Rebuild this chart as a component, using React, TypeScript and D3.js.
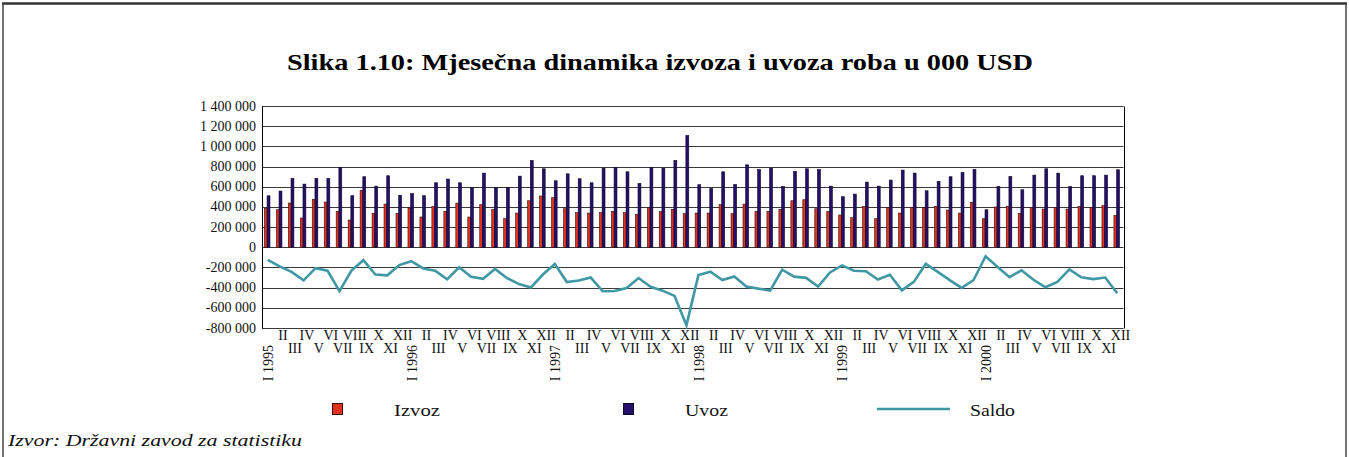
import React from 'react';
import * as d3 from 'd3';

const years = [1995, 1996, 1997, 1998, 1999, 2000];
const monthNames = ['I', 'II', 'III', 'IV', 'V', 'VI', 'VII', 'VIII', 'IX', 'X', 'XI', 'XII'];

// values in 000 USD
const izvoz = [
  385000, 372000, 438000, 290000, 475000, 448000, 356000, 270000, 564000, 336000, 428000, 336000,
  390000, 300000, 405000, 356000, 438000, 300000, 422000, 376000, 283000, 339000, 461000, 508000,
  491000, 382000, 343000, 339000, 343000, 356000, 343000, 326000, 392000, 353000, 376000, 333000,
  339000, 339000, 422000, 333000, 428000, 356000, 356000, 376000, 461000, 471000, 382000, 356000,
  320000, 293000, 405000, 283000, 392000, 339000, 392000, 392000, 405000, 369000, 339000, 445000,
  283000, 399000, 405000, 336000, 392000, 379000, 392000, 379000, 405000, 392000, 412000, 316000,
];

const uvoz = [
  510000, 557000, 682000, 626000, 682000, 682000, 791000, 511000, 699000, 606000, 709000, 514000,
  531000, 511000, 639000, 676000, 639000, 593000, 735000, 593000, 593000, 705000, 860000, 778000,
  659000, 728000, 679000, 639000, 784000, 791000, 748000, 633000, 788000, 784000, 860000, 1107000,
  620000, 583000, 748000, 623000, 817000, 771000, 784000, 603000, 752000, 778000, 771000, 606000,
  501000, 527000, 646000, 606000, 666000, 765000, 735000, 560000, 653000, 699000, 742000, 771000,
  372000, 603000, 702000, 570000, 715000, 778000, 735000, 603000, 709000, 709000, 715000, 768000,
];

const saldo = [
  -125000, -190000, -244000, -328000, -207000, -232000, -435000, -230000, -128000, -270000, -278000, -176000,
  -138000, -210000, -232000, -318000, -198000, -292000, -312000, -215000, -305000, -365000, -398000, -270000,
  -165000, -345000, -330000, -300000, -436000, -433000, -404000, -305000, -392000, -430000, -482000, -772000,
  -276000, -242000, -325000, -289000, -388000, -410000, -428000, -222000, -291000, -303000, -389000, -250000,
  -180000, -233000, -238000, -320000, -272000, -427000, -343000, -165000, -244000, -326000, -403000, -324000,
  -89000, -196000, -296000, -228000, -322000, -396000, -344000, -220000, -298000, -316000, -300000, -455000,
];

const yTicks = [1400000, 1200000, 1000000, 800000, 600000, 400000, 200000, 0, -200000, -400000, -600000, -800000];
const seriesNames = ['Izvoz', 'Uvoz', 'Saldo'];
const titleText = 'Slika 1.10: Mjesečna dinamika izvoza i uvoza roba u 000 USD';
const sourceText = 'Izvor: Državni zavod za statistiku';

const RED = '#e0321f';
const NAVY = '#24106a';
const TEAL = '#3f98a4';
const FONT = 'Liberation Serif';

export default function App() {
  const W = 1349;
  const H = 457;
  const left = 262;
  const right = 1123.5;
  const top = 106;
  const bottom = 328;

  const n = izvoz.length;
  const x = d3.scaleBand<number>().domain(d3.range(n)).range([left, right]).padding(0);
  const y = d3.scaleLinear().domain([-800000, 1400000]).range([bottom, top]);
  const bw = x.bandwidth();
  const cx = (i: number) => (x(i) as number) + bw / 2;

  const fmt = d3.formatLocale({ decimal: '.', thousands: ' ', grouping: [3], currency: ['', ''], minus: '-' }).format(',');

  const line = d3
    .line<number>()
    .x((_, i) => cx(i) - 0.3)
    .y((d) => y(d));

  const barW = 2.9;
  const crisp = (v: number) => Math.round(v) + 0.5;

  const labels: { i: number; name: string; year: number }[] = [];
  years.forEach((yr, yi) => {
    monthNames.forEach((m, mi) => labels.push({ i: yi * 12 + mi, name: m, year: yr }));
  });

  return (
    <svg width={W} height={H} style={{ position: 'absolute', left: 0, top: 0, background: '#fff' }}>
      <rect x={0} y={0} width={W} height={H} fill="#fff" />
      {/* outer frame */}
      <line x1={2} x2={1347} y1={3.5} y2={3.5} stroke="#333" strokeWidth={2.5} />
      <line x1={3} x2={3} y1={3} y2={H} stroke="#444" strokeWidth={1.5} />
      <line x1={1346} x2={1346} y1={3} y2={H} stroke="#444" strokeWidth={1.5} />

      <text
        x={287}
        y={70}
        fontFamily={FONT}
        fontSize={23}
        fontWeight="bold"
        textLength={746}
        lengthAdjust="spacingAndGlyphs"
        fill="#000"
      >
        {titleText}
      </text>

      {/* gridlines */}
      {yTicks.map((t) => (
        <line key={'g' + t} x1={left} x2={right} y1={crisp(y(t))} y2={crisp(y(t))} stroke="#3a3a3a" strokeWidth={1} />
      ))}
      {/* frame of plot */}
      <line x1={crisp(left)} x2={crisp(left)} y1={crisp(top)} y2={crisp(bottom)} stroke="#000" strokeWidth={1} />
      <line x1={crisp(right)} x2={crisp(right)} y1={crisp(top)} y2={crisp(bottom)} stroke="#000" strokeWidth={1} />

      {/* y tick labels */}
      {yTicks.map((t) => (
        <text key={'t' + t} x={256} y={y(t) + 4.5} fontFamily={FONT} fontSize={14} textAnchor="end" fill="#111">
          {fmt(t)}
        </text>
      ))}

      {/* bars */}
      {izvoz.map((v, i) => (
        <rect
          key={'r' + i}
          x={cx(i) - 3.6}
          y={y(v)}
          width={barW}
          height={y(0) - y(v)}
          fill={RED}
          stroke="#3a0c06"
          strokeWidth={0.6}
        />
      ))}
      {uvoz.map((v, i) => (
        <rect
          key={'u' + i}
          x={cx(i) - 0.9}
          y={y(v)}
          width={barW}
          height={y(0) - y(v)}
          fill={NAVY}
          stroke="#0c0526"
          strokeWidth={0.6}
        />
      ))}

      {/* saldo line */}
      <path d={line(saldo) as string} fill="none" stroke={TEAL} strokeWidth={2.6} strokeLinejoin="miter" />

      {/* x labels */}
      {labels.map((l) => {
        if (l.name === 'I') {
          return (
            <text
              key={'x' + l.i}
              transform={`translate(${cx(l.i) + 5},${345}) rotate(-90)`}
              fontFamily={FONT}
              fontSize={14}
              textAnchor="end"
              fill="#111"
            >
              {`${l.name} ${l.year}`}
            </text>
          );
        }
        const upper = (l.i % 12) % 2 === 1;
        return (
          <text
            key={'x' + l.i}
            x={cx(l.i) + 3}
            y={upper ? 340 : 353}
            fontFamily={FONT}
            fontSize={14}
            textAnchor="middle"
            fill="#111"
          >
            {l.name}
          </text>
        );
      })}

      {/* legend */}
      <rect x={332.5} y={403.5} width={10} height={11} fill={RED} stroke="#3a0c06" strokeWidth={1} />
      <text x={394} y={416} fontFamily={FONT} fontSize={17} textLength={46} lengthAdjust="spacingAndGlyphs" fill="#111">
        {seriesNames[0]}
      </text>
      <rect x={623.5} y={403.5} width={10} height={11} fill={NAVY} stroke="#0c0526" strokeWidth={1} />
      <text x={685} y={416} fontFamily={FONT} fontSize={17} textLength={43} lengthAdjust="spacingAndGlyphs" fill="#111">
        {seriesNames[1]}
      </text>
      <line x1={877} x2={950} y1={409} y2={409} stroke={TEAL} strokeWidth={2.6} />
      <text x={970} y={416} fontFamily={FONT} fontSize={17} textLength={45} lengthAdjust="spacingAndGlyphs" fill="#111">
        {seriesNames[2]}
      </text>

      <text
        x={8}
        y={446}
        fontFamily={FONT}
        fontSize={16}
        fontStyle="italic"
        textLength={294}
        lengthAdjust="spacingAndGlyphs"
        fill="#111"
      >
        {sourceText}
      </text>
    </svg>
  );
}
